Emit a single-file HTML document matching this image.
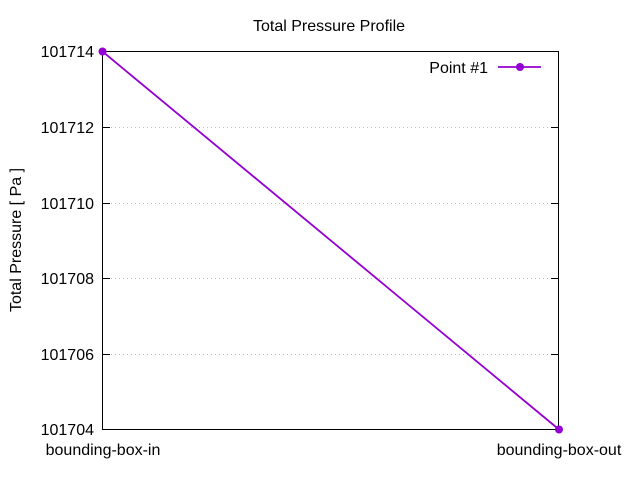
<!DOCTYPE html>
<html><head><meta charset="utf-8"><style>html,body{margin:0;padding:0;background:#fff}</style></head>
<body>
<svg width="640" height="480" xmlns="http://www.w3.org/2000/svg" font-family="Liberation Sans, sans-serif" font-size="16">
<rect width="640" height="480" fill="#fff"/>
<g stroke="#bbb" stroke-width="1" stroke-dasharray="1,3">
<line x1="103" y1="127.5" x2="558" y2="127.5"/>
<line x1="103" y1="203.5" x2="558" y2="203.5"/>
<line x1="103" y1="278.5" x2="558" y2="278.5"/>
<line x1="103" y1="354.5" x2="558" y2="354.5"/>
</g>
<g stroke="#000" stroke-width="1">
<line x1="102.5" y1="127.5" x2="110" y2="127.5"/><line x1="559" y1="127.5" x2="551" y2="127.5"/>
<line x1="102.5" y1="203.5" x2="110" y2="203.5"/><line x1="559" y1="203.5" x2="551" y2="203.5"/>
<line x1="102.5" y1="278.5" x2="110" y2="278.5"/><line x1="559" y1="278.5" x2="551" y2="278.5"/>
<line x1="102.5" y1="354.5" x2="110" y2="354.5"/><line x1="559" y1="354.5" x2="551" y2="354.5"/>
<rect x="102.5" y="51.5" width="456" height="378" fill="none"/>
</g>
<g text-anchor="end">
<text x="94" y="57">101714</text>
<text x="94" y="133">101712</text>
<text x="94" y="209">101710</text>
<text x="94" y="284">101708</text>
<text x="94" y="360">101706</text>
<text x="94" y="435">101704</text>
</g>
<text x="103" y="455" text-anchor="middle">bounding-box-in</text>
<text x="559" y="455" text-anchor="middle">bounding-box-out</text>
<text x="329" y="31" text-anchor="middle">Total Pressure Profile</text>
<text transform="translate(21,240) rotate(-90)" text-anchor="middle">Total Pressure [ Pa ]</text>
<text x="488" y="73" text-anchor="end">Point #1</text>
<g stroke="#9400d3" stroke-width="1.8" fill="#9400d3">
<line x1="498" y1="67" x2="541" y2="67"/>
<circle cx="520" cy="67" r="4" stroke="none"/>
<line x1="102.5" y1="51.5" x2="559" y2="429.5"/>
<circle cx="102.5" cy="51.5" r="4" stroke="none"/>
<circle cx="559" cy="429.5" r="4" stroke="none"/>
</g>
</svg>
</body></html>
